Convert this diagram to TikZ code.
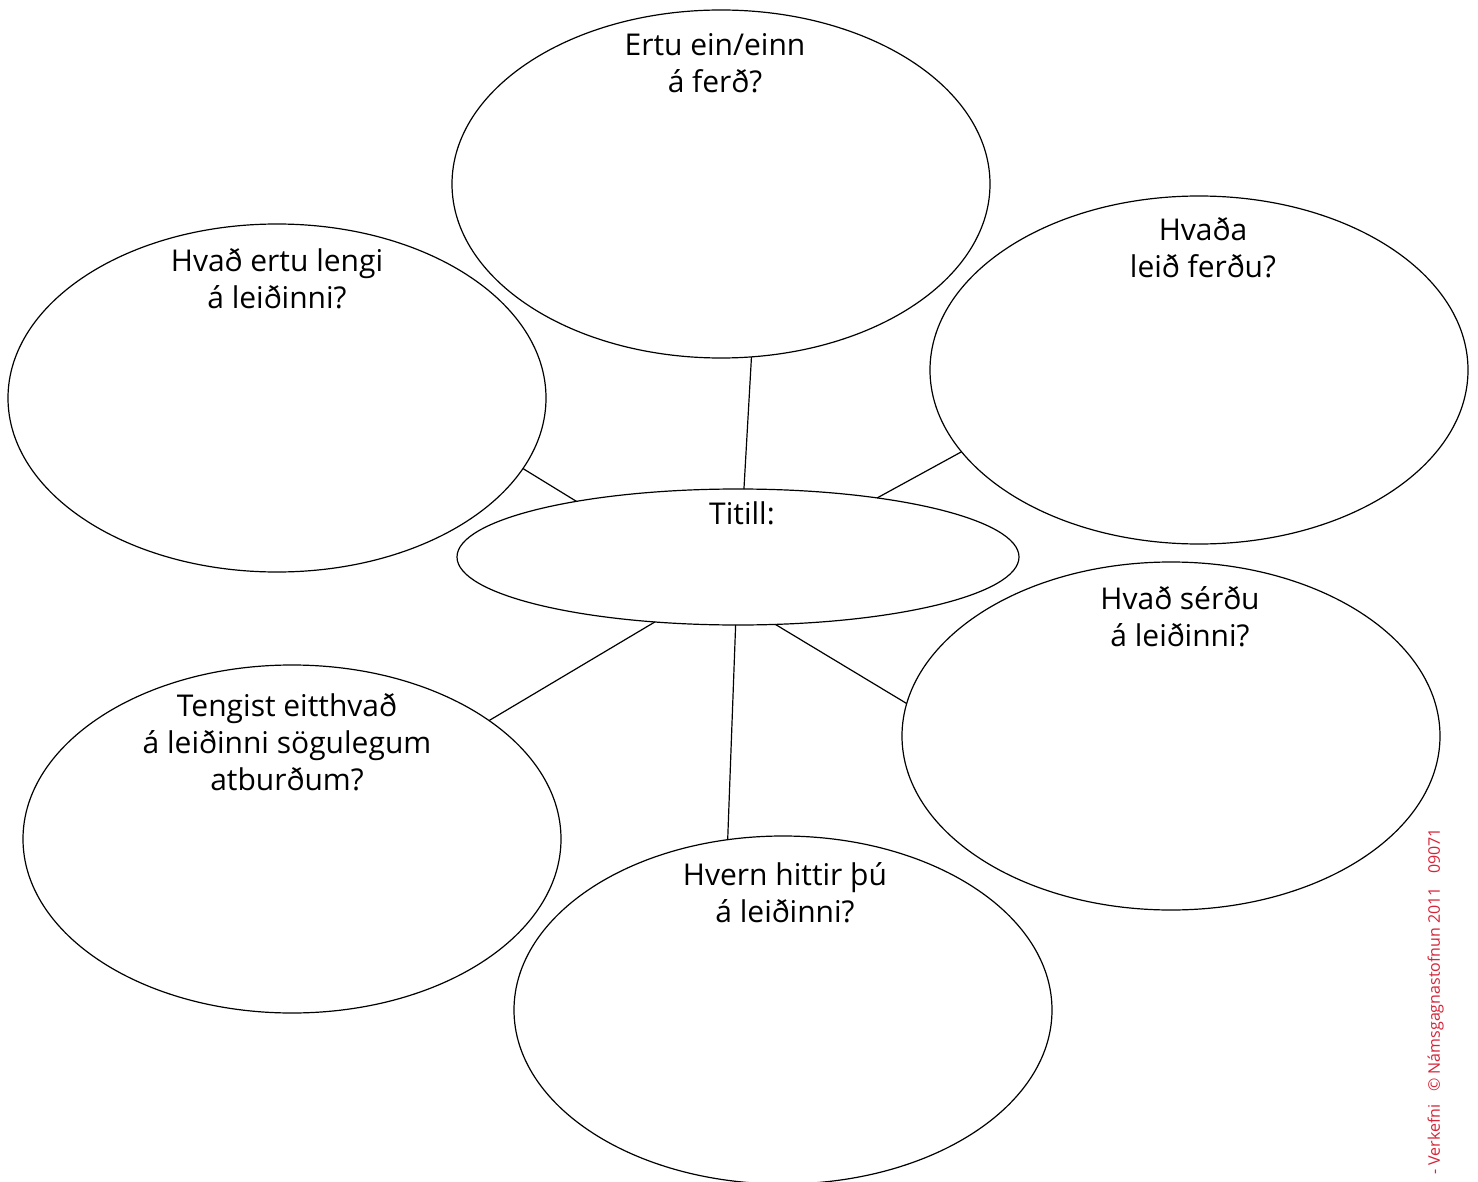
\documentclass[tikz,border=0pt]{standalone}
\usepackage{fontspec}
\setmainfont{Open Sans}
\usetikzlibrary{shapes.geometric}
\definecolor{credred}{RGB}{215,35,55}
\begin{document}
\begin{tikzpicture}[x=1pt,y=-1pt,
  bubble/.style={ellipse,draw=black,line width=1.2pt,inner sep=0pt,outer sep=0pt,
    minimum width=538pt,minimum height=348pt},
  qtext/.style={align=center,font=\fontsize{30}{37}\selectfont,inner sep=0pt,anchor=north},
  link/.style={draw=black,line width=1.2pt}]
\useasboundingbox (0,0) rectangle (1478,1182);
\fill[white] (0,0) rectangle (1478,1182);
% ellipses
\node[bubble] (top) at (721,184) {};
\node[bubble] (lu) at (277,398) {};
\node[bubble] (ru) at (1199,370) {};
\node[bubble] (rl) at (1171,736) {};
\node[bubble] (ll) at (292,839) {};
\node[bubble] (bot) at (783,1010) {};
\node[ellipse,draw=black,line width=1.2pt,inner sep=0pt,outer sep=0pt,
  minimum width=562pt,minimum height=136pt] (c) at (738,557) {};
% connectors
\draw[link] (top.-80.5) -- (c.85.8);
\draw[link] (lu.-16.3) -- (c.161);
\draw[link] (ru.-161.5) -- (c.23.7);
\draw[link] (ll.31.6) -- (c.218.8);
\draw[link] (bot.108.9) -- (c.268.4);
\draw[link] (rl.173.8) -- (c.-61.8);
% texts
\node[qtext] (ttop) at (715,33) {Ertu ein/einn\\á ferð?};
\node[qtext] (tlu) at (277,248) {Hvað ertu lengi\\á leiðinni?};
\node[qtext] (tru) at (1203,217) {Hvaða\\leið ferðu?};
\node[qtext] (tc) at (742,502) {Titill:};
\node[qtext] (trl) at (1180,586) {Hvað sérðu\\á leiðinni?};
\node[qtext] (tll) at (287,693) {Tengist eitthvað\\á leiðinni sögulegum\\atburðum?};
\node[qtext] (tbot) at (785,862) {Hvern hittir þú\\á leiðinni?};
% credit
\node[rotate=90,anchor=south east,inner sep=0pt,text=credred,
  font=\fontsize{16}{19}\selectfont] (credit) at (1444,828)
  {- Verkefni\hspace{13pt}© Námsgagnastofnun 2011\hspace{13pt}09071};
\end{tikzpicture}
\end{document}
